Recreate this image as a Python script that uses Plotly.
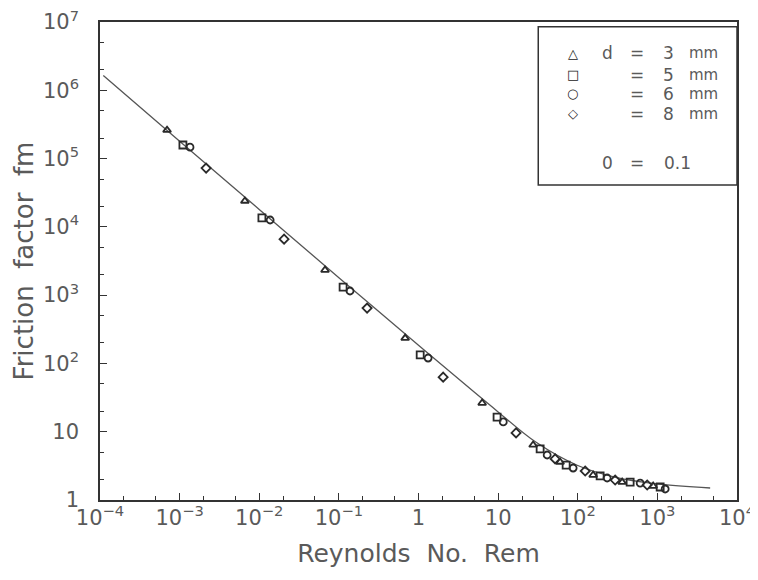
import plotly.graph_objects as go

# Curve
line_re = [1.1e-4, 1e-3, 1e-2, 1e-1, 1, 5, 10, 30, 100, 300, 1000, 4600]
line_fm = [1.65e6, 1.8e5, 1.8e4, 1.8e3, 185, 38, 19.5, 7.0, 3.2, 2.15, 1.72, 1.5]

# Data points (d = 3, 5, 6, 8 mm)
re_3 = [6.95e-4, 6.6e-3, 6.7e-2, 0.68, 6.3, 27.5, 60, 156, 361, 885]
fm_3 = [2.61e5, 2.39e4, 2.33e3, 235, 26.3, 6.4, 3.6, 2.32, 1.83, 1.60]
re_5 = [1.1e-3, 1.08e-2, 0.113, 1.05, 9.7, 33.7, 71.5, 191, 455, 1084]
fm_5 = [1.58e5, 1.35e4, 1.31e3, 133, 16.4, 5.6, 3.25, 2.25, 1.83, 1.55]
re_6 = [1.35e-3, 1.37e-2, 0.138, 1.32, 11.6, 41.3, 87.5, 234, 608, 1253]
fm_6 = [1.47e5, 1.26e4, 1.15e3, 120, 13.9, 4.56, 2.94, 2.1, 1.77, 1.45]
re_8 = [2.15e-3, 2.05e-2, 0.226, 2.04, 16.8, 52, 124, 295, 745]
fm_8 = [7.26e4, 6.6e3, 647, 63, 9.6, 4.0, 2.66, 1.96, 1.66]

x_tickvals = [1e-4, 1e-3, 1e-2, 1e-1, 1, 10, 100, 1000, 10000]
x_ticktext = ["10<sup>−4</sup>", "10<sup>−3</sup>", "10<sup>−2</sup>", "10<sup>−1</sup>",
              "1", "10", "10<sup>2</sup>", "10<sup>3</sup>", "10<sup>4</sup>"]
y_tickvals = [1, 10, 100, 1e3, 1e4, 1e5, 1e6, 1e7]
y_ticktext = ["1", "10", "10<sup>2</sup>", "10<sup>3</sup>", "10<sup>4</sup>",
              "10<sup>5</sup>", "10<sup>6</sup>", "10<sup>7</sup>"]

legend_symbols = ["△", "□", "○", "◇"]
legend_sizes = ["3", "5", "6", "8"]

FONT = "DejaVu Sans"
TXT = "#5a5a5a"
INK = "#333333"

fig = go.Figure()
fig.add_trace(go.Scatter(x=line_re, y=line_fm, mode="lines",
                         line=dict(color="#555555", width=1.3), line_shape="spline",
                         showlegend=False))
for xs, ys, sym in [(re_3, fm_3, "triangle-up-open"), (re_5, fm_5, "square-open"),
                    (re_6, fm_6, "circle-open"), (re_8, fm_8, "diamond-open")]:
    fig.add_trace(go.Scatter(x=xs, y=ys, mode="markers",
                             marker=dict(symbol=sym, size=7, color="#2a2a2a",
                                         line=dict(color="#2a2a2a", width=1.8)),
                             showlegend=False))

axis_common = dict(type="log", showline=True, linecolor=INK, linewidth=1.5, mirror=True,
                   ticks="inside", ticklen=7, tickcolor=INK, showgrid=False, zeroline=False,
                   automargin=False, ticklabeloverflow="allow",
                   tickfont=dict(family=FONT, size=21, color=TXT),
                   minor=dict(ticks="inside", ticklen=4, tickcolor=INK, showgrid=False))

fig.update_xaxes(**axis_common, range=[-4, 4], tickvals=x_tickvals, ticktext=x_ticktext,
                 ticklabelstandoff=-2,
                 title=dict(text="Reynolds  No.  Rem", font=dict(family=FONT, size=25, color=TXT),
                            standoff=16))
fig.update_yaxes(**axis_common, range=[0, 7], tickvals=y_tickvals, ticktext=y_ticktext,
                 ticklabelstandoff=15,
                 title=dict(text="Friction  factor  fm", font=dict(family=FONT, size=26, color=TXT),
                            standoff=2))

# legend box
fig.add_shape(type="rect", xref="paper", yref="paper", x0=0.688, x1=1.0, y0=0.659, y1=0.99,
              line=dict(color=INK, width=1.5), fillcolor="white")
rows_y = [0.935, 0.89, 0.85, 0.808]
for i, (s, d) in enumerate(zip(legend_symbols, legend_sizes)):
    fig.add_annotation(xref="paper", yref="paper", x=0.742, y=rows_y[i], text="<b>" + s + "</b>",
                       showarrow=False, font=dict(family=FONT, size=13, color="#222"),
                       xanchor="center", yanchor="middle")
    label = ("d" if i == 0 else "")
    fig.add_annotation(xref="paper", yref="paper", x=0.796, y=rows_y[i], text=label, showarrow=False,
                       font=dict(family=FONT, size=17, color=TXT), xanchor="center", yanchor="middle")
    fig.add_annotation(xref="paper", yref="paper", x=0.843, y=rows_y[i], text="=", showarrow=False,
                       font=dict(family=FONT, size=17, color=TXT), xanchor="center", yanchor="middle")
    fig.add_annotation(xref="paper", yref="paper", x=0.892, y=rows_y[i], text=d, showarrow=False,
                       font=dict(family=FONT, size=17, color=TXT), xanchor="center", yanchor="middle")
    fig.add_annotation(xref="paper", yref="paper", x=0.947, y=rows_y[i], text="mm", showarrow=False,
                       font=dict(family=FONT, size=15, color=TXT), xanchor="center", yanchor="middle")
fig.add_annotation(xref="paper", yref="paper", x=0.796, y=0.705, text="0", showarrow=False,
                   font=dict(family=FONT, size=17, color=TXT), xanchor="center", yanchor="middle")
fig.add_annotation(xref="paper", yref="paper", x=0.843, y=0.705, text="=", showarrow=False,
                   font=dict(family=FONT, size=17, color=TXT), xanchor="center", yanchor="middle")
fig.add_annotation(xref="paper", yref="paper", x=0.906, y=0.705, text="0.1", showarrow=False,
                   font=dict(family=FONT, size=17, color=TXT), xanchor="center", yanchor="middle")

# page body has an 8px default margin: size and margins compensate for it
fig.update_layout(width=750, height=572, margin=dict(l=92, r=21, t=14, b=80),
                  paper_bgcolor="white", plot_bgcolor="white", showlegend=False)
fig.write_html("out.html")
